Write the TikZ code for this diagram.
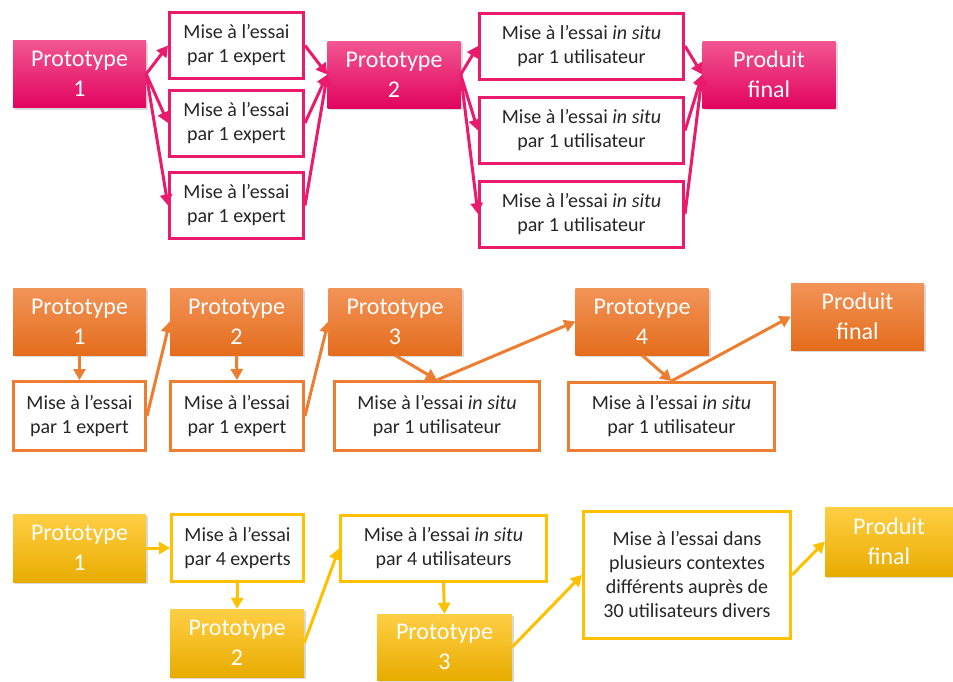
\documentclass[tikz,border=0pt]{standalone}
\usepackage{fontspec}
\setmainfont{Carlito}
\usepackage{xcolor}
\usepackage{tikz}
\usetikzlibrary{arrows.meta}
\usetikzlibrary{shadows}
\definecolor{rose}{RGB}{234,26,108}
\definecolor{roseclair}{RGB}{242,86,145}
\definecolor{rosefonce}{RGB}{226,4,96}
\definecolor{orangeb}{RGB}{237,125,49}
\definecolor{orangeclair}{RGB}{242,148,88}
\definecolor{orangefonce}{RGB}{228,108,28}
\definecolor{jaune}{RGB}{255,192,0}
\definecolor{jauneclair}{RGB}{255,206,68}
\definecolor{jaunefonce}{RGB}{232,172,0}
\tikzset{ proto/.style = {rectangle, minimum width=133pt, minimum height=67pt, inner sep=0pt, align=center, text=white, font=\fontsize{24}{30}\selectfont, drop shadow={shadow xshift=2pt, shadow yshift=-2pt, opacity=0.3}} }
\tikzset{ proto_rose/.style = {proto, top color=roseclair, middle color=rose, bottom color=rosefonce} }
\tikzset{ proto_orange/.style = {proto, top color=orangeclair, middle color=orangeb, bottom color=orangefonce} }
\tikzset{ proto_jaune/.style = {proto, top color=jauneclair, middle color=jaune, bottom color=jaunefonce} }
\tikzset{ essai/.style = {rectangle, draw=#1, line width=3pt, fill=white, inner sep=0pt, minimum width=134pt, minimum height=66pt, align=center, text=black!85, font=\fontsize{20}{24}\selectfont} }
\tikzset{ fleche/.style = {draw=#1, line width=3pt, -{Triangle[length=11pt,width=12pt]}} }

\begin{document}
\begin{tikzpicture}[x=1pt,y=-1pt]
\useasboundingbox (0,0) rectangle (953,681);
% premier parcours
\node[proto_rose] (p1) at (79.5,74) {Prototype\\1};
\node[essai=rose] (e1) at (236.5,45.5) {Mise à l’essai\\par 1 expert};
\node[essai=rose] (e2) at (236.5,123) {Mise à l’essai\\par 1 expert};
\node[essai=rose] (e3) at (236.5,205.5) {Mise à l’essai\\par 1 expert};
\node[proto_rose] (p2) at (394,74.5) {Prototype\\2};
\node[essai=rose, minimum width=204pt] (s1) at (581.5,46) {Mise à l’essai \textit{in situ}\\par 1 utilisateur};
\node[essai=rose, minimum width=204pt] (s2) at (581.5,130.5) {Mise à l’essai \textit{in situ}\\par 1 utilisateur};
\node[essai=rose, minimum width=204pt] (s3) at (581.5,214) {Mise à l’essai \textit{in situ}\\par 1 utilisateur};
\node[proto_rose] (pf) at (769,74.5) {Produit\\final};
\draw[fleche=rose] (p1.east) -- (e1.west);
\draw[fleche=rose] (p1.east) -- (e2.west);
\draw[fleche=rose] (p1.east) -- (e3.west);
\draw[fleche=rose] (e1.east) -- (p2.west);
\draw[fleche=rose] (e2.east) -- (p2.west);
\draw[fleche=rose] (e3.east) -- (p2.west);
\draw[fleche=rose] (p2.east) -- (s1.west);
\draw[fleche=rose] (p2.east) -- (s2.west);
\draw[fleche=rose] (p2.east) -- (s3.west);
\draw[fleche=rose] (s1.east) -- (pf.west);
\draw[fleche=rose] (s2.east) -- (pf.west);
\draw[fleche=rose] (s3.east) -- (pf.west);
% deuxieme parcours
\node[proto_orange] (q1) at (79.5,321.5) {Prototype\\1};
\node[essai=orangeb, minimum width=132pt, minimum height=69pt] (x1) at (79.5,416) {Mise à l’essai\\par 1 expert};
\node[proto_orange] (q2) at (236.5,321.5) {Prototype\\2};
\node[essai=orangeb, minimum width=133pt, minimum height=69pt] (x2) at (237,416) {Mise à l’essai\\par 1 expert};
\node[proto_orange] (q3) at (395,321.5) {Prototype\\3};
\node[essai=orangeb, minimum width=205pt, minimum height=69pt] (t1) at (437,416) {Mise à l’essai \textit{in situ}\\par 1 utilisateur};
\node[proto_orange] (q4) at (642,321.5) {Prototype\\4};
\node[essai=orangeb, minimum width=206pt, minimum height=68pt] (t2) at (671.5,416.5) {Mise à l’essai \textit{in situ}\\par 1 utilisateur};
\node[proto_orange] (qf) at (857.5,316.5) {Produit\\final};
\draw[fleche=orangeb] (q1.south) -- (x1.north);
\draw[fleche=orangeb] (x1.east) -- (q2.west);
\draw[fleche=orangeb] (q2.south) -- (x2.north);
\draw[fleche=orangeb] (x2.east) -- (q3.west);
\draw[fleche=orangeb] (q3.south) -- (t1.north);
\draw[fleche=orangeb] (t1.north) -- (q4.west);
\draw[fleche=orangeb] (q4.south) -- (t2.north);
\draw[fleche=orangeb] (t2.north) -- (qf.west);
% troisieme parcours
\node[proto_jaune, minimum height=68pt] (r1) at (79.5,548) {Prototype\\1};
\node[essai=jaune, minimum width=132pt, minimum height=67pt] (y1) at (237.5,548) {Mise à l’essai\\par 4 experts};
\node[proto_jaune, minimum width=134pt, minimum height=68pt] (r2) at (237,643) {Prototype\\2};
\node[essai=jaune, minimum width=206pt] (u1) at (443.5,548.5) {Mise à l’essai \textit{in situ}\\par 4 utilisateurs};
\node[proto_jaune, minimum width=135pt, minimum height=66pt] (r3) at (444.5,647) {Prototype\\3};
\node[essai=jaune, minimum width=207pt, minimum height=127pt] (d1) at (687,575) {Mise à l’essai dans\\plusieurs contextes\\différents auprès de\\30 utilisateurs divers};
\node[proto_jaune, minimum width=128pt, minimum height=69pt] (rf) at (889,541.5) {Produit\\final};
\draw[fleche=jaune] (r1.east) -- (y1.west);
\draw[fleche=jaune] (y1.south) -- (r2.north);
\draw[fleche=jaune] (r2.east) -- (u1.west);
\draw[fleche=jaune] (u1.south) -- (r3.north);
\draw[fleche=jaune] (r3.east) -- (d1.west);
\draw[fleche=jaune] (d1.east) -- (rf.west);
\end{tikzpicture}
\end{document}
